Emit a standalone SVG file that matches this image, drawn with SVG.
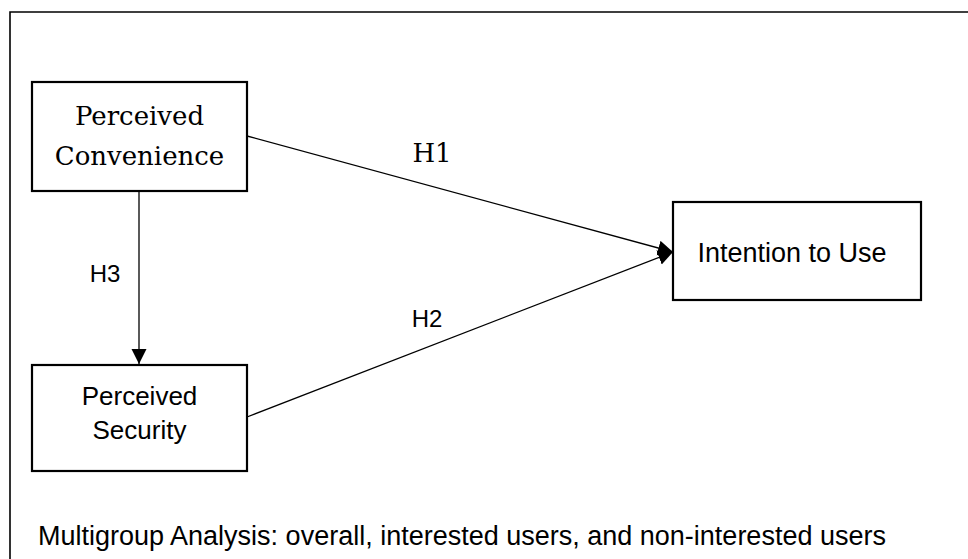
<svg xmlns="http://www.w3.org/2000/svg" width="968" height="559" viewBox="0 0 968 559">
  <style>
    .box { fill: #ffffff; stroke: #000000; stroke-width: 2.2; }
    .frame { fill: none; stroke: #000000; stroke-width: 1.6; }
    .edge { fill: none; stroke: #000000; stroke-width: 1.3; }
    .serif { font-family: "DejaVu Serif", "Liberation Serif", serif; font-size: 26px; fill: #000; }
    .sans { font-family: "Liberation Sans", Arial, sans-serif; fill: #000; }
  </style>
  <defs>
    <marker id="arrow" markerUnits="userSpaceOnUse" markerWidth="16" markerHeight="16" viewBox="0 0 16 16" refX="15" refY="8" orient="auto">
      <path d="M0,0.5 L15,8 L0,15.5 Z" fill="#000"/>
    </marker>
  </defs>
  <rect x="0" y="0" width="968" height="559" fill="#ffffff"/>
  <path class="frame" d="M10,570 L10,12 L980,12"/>

  <g id="connectors">
    <line class="edge" x1="247" y1="136" x2="673" y2="252" marker-end="url(#arrow)"/>
    <line class="edge" x1="247" y1="417" x2="673" y2="252" marker-end="url(#arrow)"/>
    <line class="edge" x1="139" y1="191" x2="139" y2="364" marker-end="url(#arrow)"/>
    <text class="serif" x="432" y="162" text-anchor="middle">H1</text>
    <text class="sans" x="427" y="327" font-size="24" text-anchor="middle">H2</text>
    <text class="sans" x="105" y="282" font-size="24" text-anchor="middle">H3</text>
  </g>

  <g id="perceived-convenience">
    <rect class="box" x="32" y="82" width="215" height="109"/>
    <text class="serif" x="139.5" y="125" text-anchor="middle">Perceived</text>
    <text class="serif" x="139.5" y="165" text-anchor="middle">Convenience</text>
  </g>

  <g id="perceived-security">
    <rect class="box" x="32" y="365" width="215" height="106"/>
    <text class="sans" x="139.5" y="405" font-size="26" text-anchor="middle">Perceived</text>
    <text class="sans" x="139.5" y="439" font-size="26" text-anchor="middle">Security</text>
  </g>

  <g id="intention-to-use">
    <rect class="box" x="673" y="202" width="248" height="98"/>
    <text class="sans" x="792" y="262" font-size="27" text-anchor="middle">Intention to Use</text>
  </g>

  <g id="caption">
    <text class="sans" x="38" y="545" font-size="27">Multigroup Analysis: overall, interested users, and non-interested users</text>
  </g>
</svg>
